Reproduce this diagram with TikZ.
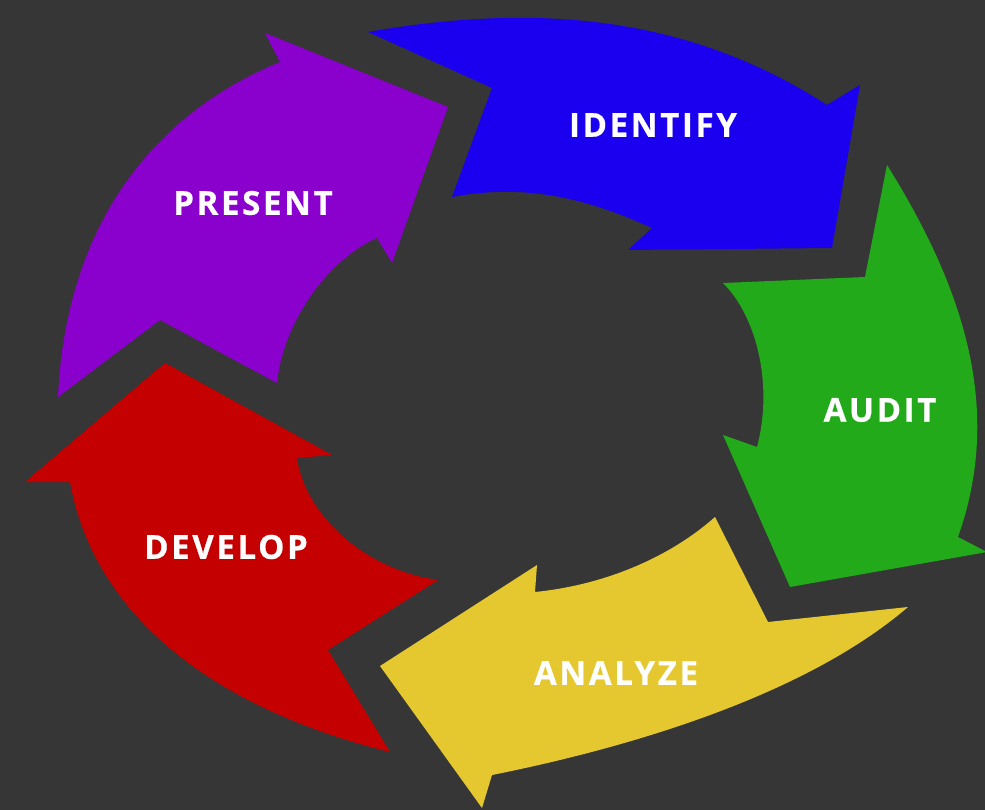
\documentclass[tikz,border=0pt]{standalone}
\usepackage{fontspec}
\setmainfont{Open Sans}
\usepackage{tikz}
\usetikzlibrary{positioning}

\definecolor{bgcol}{RGB}{54,54,54}
\definecolor{presentcol}{RGB}{138,0,204}
\definecolor{identifycol}{RGB}{26,0,238}
\definecolor{auditcol}{RGB}{34,170,26}
\definecolor{analyzecol}{RGB}{229,200,48}
\definecolor{developcol}{RGB}{196,0,0}

\begin{document}
\begin{tikzpicture}[x=1pt,y=-1pt,
    lbl/.style={text=white,inner sep=0pt,
      font=\fontsize{33}{33}\selectfont\bfseries\addfontfeature{LetterSpace=8,FakeBold=0.6}}]
  \pgfmathsetmacro {\W}{985}   %picture width
  \pgfmathsetmacro {\H}{810}   %picture height

  \fill[bgcol] (0,0) rectangle (\W,\H) ; %Background
  \useasboundingbox (0,0) rectangle (\W,\H) ;

  %Draw present arrow (purple)
  \fill[presentcol] (58,397) .. controls (65,240) and (140,120) .. (280,62) %outer edge
    -- (265,33) -- (448,107) -- (392,263) -- (377,238)  %head
    .. controls (327,260) and (283,323) .. (277,383) %inner edge
    -- (160,320) -- cycle ; %tail notch

  %Draw identify arrow (blue)
  \fill[identifycol] (368,32) .. controls (518,6) and (677,8) .. (827,105) %outer edge
    -- (860,85) -- (832,248) -- (628,250) -- (652,228)  %head
    .. controls (582,196) and (522,184) .. (452,197) %inner edge
    -- (492,88) -- cycle ; %tail notch

  %Draw audit arrow (green)
  \fill[auditcol] (887,165) .. controls (965,290) and (1003,410) .. (958,537) %outer edge
    -- (987,552) -- (790,587) -- (723,435) -- (757,447)  %head
    .. controls (773,387) and (758,318) .. (723,283) %inner edge
    -- (865,277) -- cycle ; %tail notch

  %Draw analyze arrow (yellow)
  \fill[analyzecol] (715,517) .. controls (670,557) and (605,585) .. (535,592) %inner edge
    -- (537,565) -- (380,666) -- (482,808) -- (492,775)  %head
    .. controls (642,745) and (809,692) .. (908,607) %outer edge
    -- (768,622) -- cycle ; %tail notch

  %Draw develop arrow (red)
  \fill[developcol] (438,580) .. controls (365,570) and (305,515) .. (297,458) %inner edge
    -- (332,455) -- (165,363) -- (25,482) -- (70,482)  %head
    .. controls (95,620) and (220,710) .. (390,752) %outer edge
    -- (328,650) -- cycle ; %tail notch

  %Labels
  \node[lbl] (present)  at (253,203) {PRESENT};
  \node[lbl] (identify) at (653,125) {IDENTIFY};
  \node[lbl] (audit)    at (880,410) {AUDIT};
  \node[lbl] (analyze)  at (616,673) {ANALYZE};
  \node[lbl] (develop)  at (226,547) {DEVELOP};
\end{tikzpicture}
\end{document}
